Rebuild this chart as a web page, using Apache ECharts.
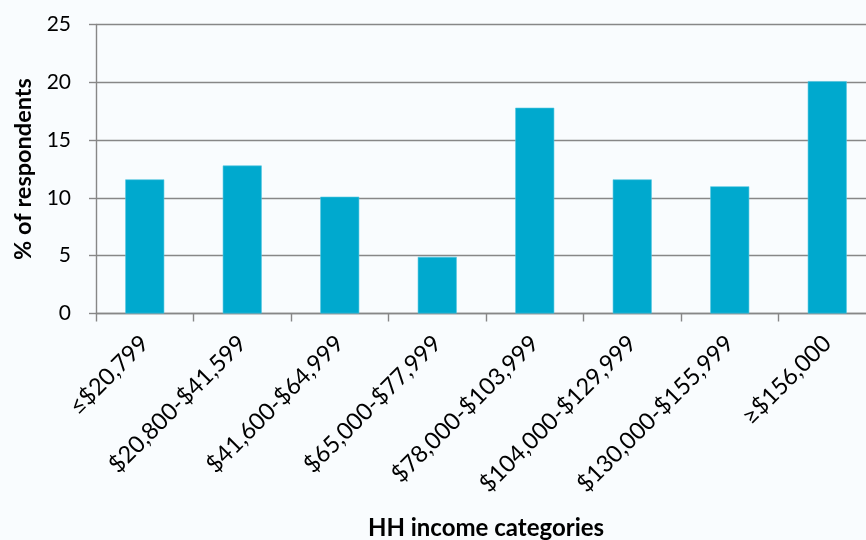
<!DOCTYPE html>
<html>
<head>
<meta charset="utf-8">
<script src="https://cdn.jsdelivr.net/npm/echarts@6/dist/echarts.min.js"></script>
<style>
  html, body { margin: 0; padding: 0; background: #f9fcfe; }
  #chart { width: 866px; height: 540px; }
</style>
</head>
<body>
<div id="chart"></div>
<script>
// Household income brackets and share of respondents in each (%)
const categories = [
  '≤$20,799',
  '$20,800-$41,599',
  '$41,600-$64,999',
  '$65,000-$77,999',
  '$78,000-$103,999',
  '$104,000-$129,999',
  '$130,000-$155,999',
  '≥$156,000'
];
const respondentsPct = [11.6, 12.8, 10.1, 4.9, 17.8, 11.6, 11.0, 20.1];
const yTicks = { min: 0, max: 25, interval: 5 };

const FONT = 'Lato, "Open Sans", sans-serif';
const GRID_COLOR = '#878787';

const chart = echarts.init(document.getElementById('chart'), null, { renderer: 'canvas' });
chart.setOption({
  backgroundColor: '#f9fcfe',
  animation: false,
  grid: { left: 96, top: 24.5, width: 780, height: 289, outerBoundsMode: 'none', containLabel: false },
  xAxis: {
    type: 'category',
    data: categories,
    axisLine: { lineStyle: { color: GRID_COLOR, width: 1.4 } },
    axisTick: { show: true, length: 8, lineStyle: { color: GRID_COLOR, width: 1.4 } },
    axisLabel: {
      rotate: 45, margin: 26, interval: 0,
      color: '#000', fontSize: 23.5, fontFamily: FONT
    },
    name: 'HH income categories',
    nameLocation: 'middle',
    nameGap: 203,
    nameTextStyle: { color: '#000', fontSize: 24, fontWeight: 'bold', fontFamily: FONT }
  },
  yAxis: {
    type: 'value',
    min: yTicks.min, max: yTicks.max, interval: yTicks.interval,
    axisLine: { show: true, lineStyle: { color: GRID_COLOR, width: 1.4 } },
    axisTick: { show: true, length: 7, lineStyle: { color: GRID_COLOR, width: 1.4 } },
    splitLine: { lineStyle: { color: GRID_COLOR, width: 1.4 } },
    axisLabel: { margin: 25, color: '#000', fontSize: 21, fontFamily: FONT },
    name: '% of respondents',
    nameLocation: 'middle',
    nameGap: 61,
    nameTextStyle: { color: '#000', fontSize: 23.5, fontWeight: 'bold', fontFamily: FONT }
  },
  series: [{
    type: 'bar',
    data: respondentsPct,
    barWidth: 39,
    itemStyle: { color: '#00a9ce', borderColor: '#52c6e0', borderWidth: 0.6 }
  }]
});
</script>
</body>
</html>
